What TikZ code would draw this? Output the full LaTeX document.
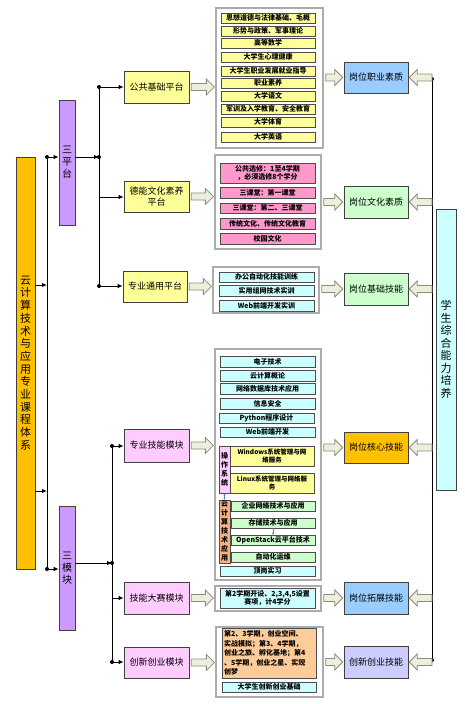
\documentclass[tikz,border=0pt]{standalone}
\usepackage{fontspec}
\setmainfont{Noto Sans CJK SC}
\usetikzlibrary{arrows.meta,calc}
\definecolor{cGold}{HTML}{FFC000}
\definecolor{cPurple}{HTML}{CC99FF}
\definecolor{cYellow}{HTML}{FFFF99}
\definecolor{cPink}{HTML}{FFCCFF}
\definecolor{cBlue}{HTML}{99CCFF}
\definecolor{cGreen}{HTML}{CCFFCC}
\definecolor{cLav}{HTML}{CCCCFF}
\definecolor{cCyan}{HTML}{CCFFFF}
\definecolor{cRose}{HTML}{FF99CC}
\definecolor{cPeach}{HTML}{FFCC99}
\definecolor{cTan}{HTML}{F4B183}
\definecolor{cFat}{HTML}{EEEEDD}
\definecolor{cFatLine}{HTML}{8C8C7A}
\definecolor{cSmall}{HTML}{5B7FBF}
\newcommand\bx[7]{\node[#6,minimum width={(#4-#2)*1pt},minimum height={(#5-#3)*1pt}] (#1) at ({(#2+#4)/2},{(#3+#5)/2}) {#7};}
\newcommand\fatR[3]{\path[fatst] let \p1=(#1), \p2=(#2), \p3=(#3) in
  ({\x1+2pt},{\y3+3.5pt}) -- ({\x2-9pt},{\y3+3.5pt}) -- ({\x2-9pt},{\y3+8pt}) -- ({\x2-1pt},\y3) --
  ({\x2-9pt},{\y3-8pt}) -- ({\x2-9pt},{\y3-3.5pt}) -- ({\x1+2pt},{\y3-3.5pt}) -- cycle;}
\newcommand\fatL[3]{\path[fatst] let \p1=(#1), \p2=(#2), \p3=(#3) in
  (\x1,{\y3+3.5pt}) -- ({\x2+9pt},{\y3+3.5pt}) -- ({\x2+9pt},{\y3+8pt}) -- ({\x2+1pt},\y3) --
  ({\x2+9pt},{\y3-8pt}) -- ({\x2+9pt},{\y3-3.5pt}) -- (\x1,{\y3-3.5pt}) -- cycle;}
\tikzset{
  mainbox/.style={draw=black!75,line width=0.6pt,inner sep=0pt,align=center},
  mid/.style={mainbox,font=\fontsize{9}{11}\selectfont},
  vbig/.style={mainbox,font=\fontsize{11}{12.7}\selectfont},
  item/.style={draw=black!70,line width=0.5pt,inner sep=0pt,align=center,font=\bfseries\fontsize{7}{8.5}\selectfont},
  vitem/.style={item,font=\bfseries\fontsize{7}{9}\selectfont},
  frame/.style={draw=gray!65,line width=1.3pt,fill=white,inner sep=0pt},
  fatst/.style={draw=cFatLine,fill=cFat,line width=0.8pt,line join=miter},
  ln/.style={line width=1pt,black},
  conn/.style={ln,-{Latex[length=5pt,width=4.5pt]}},
  small/.style={draw=cSmall,line width=0.5pt}
}
\begin{document}
\begin{tikzpicture}[x=1pt,y=-1pt]
\fill[white] (0,0) rectangle (464,704);
\useasboundingbox (0,0) rectangle (464,704);
% left column
\bx{sys}{16}{157}{35}{569}{vbig,fill=cGold}{云\\计\\算\\技\\术\\与\\应\\用\\专\\业\\课\\程\\体\\系}
\bx{pt}{59}{100}{75}{225}{mainbox,fill=cPurple,font=\fontsize{10}{12}\selectfont}{三\\平\\台}
\bx{mk}{59}{506}{75}{630}{mainbox,fill=cPurple,font=\fontsize{10}{12}\selectfont}{三\\模\\块}
% middle column
\bx{gj}{124}{71}{189}{103}{mid,fill=cYellow}{公共基础平台}
\bx{dn}{124}{181}{189}{212}{mid,fill=cYellow}{德能文化素养\\平台}
\bx{zy}{123}{271}{187}{302}{mid,fill=cYellow}{专业通用平台}
\bx{jn}{124}{429}{189}{462}{mid,fill=cPink}{专业技能模块}
\bx{ds}{124}{582}{189}{614}{mid,fill=cPink}{技能大赛模块}
\bx{cx}{124}{647}{189}{678}{mid,fill=cPink}{创新创业模块}
% right column
\bx{r1}{344}{62}{408}{93}{mid,fill=cBlue}{岗位职业素质}
\bx{r2}{344}{186}{408}{218}{mid,fill=cGreen}{岗位文化素质}
\bx{r3}{344}{273}{408}{305}{mid,fill=cGreen}{岗位基础技能}
\bx{r4}{344}{432}{408}{463}{mid,fill=cGold}{岗位核心技能}
\bx{r5}{344}{582}{408}{614}{mid,fill=cBlue}{岗位拓展技能}
\bx{r6}{344}{646}{408}{678}{mid,fill=cLav}{创新创业技能}
\bx{stu}{436}{209}{456}{490}{mainbox,fill=cCyan,font=\fontsize{11}{12.5}\selectfont}{学\\生\\综\\合\\能\\力\\培\\养}
% frames
\bx{c1}{216}{8}{323}{148}{frame}{}
\bx{c2}{215}{155}{321}{249}{frame}{}
\bx{c3}{213}{267}{319}{313}{frame}{}
\bx{c4}{215}{349}{321}{580}{frame}{}
\bx{c5}{215}{586}{321}{611}{frame}{}
\bx{c6}{216}{627}{323}{697}{frame}{}
% frame 1 items
\bx{a1}{221}{13}{315}{23}{item,fill=cYellow}{思想道德与法律基础、毛概}
\bx{a2}{221}{26}{315}{36}{item,fill=cYellow}{形势与政策、军事理论}
\bx{a3}{221}{38}{315}{48}{item,fill=cYellow}{高等数学}
\bx{a4}{221}{52}{315}{62}{item,fill=cYellow}{大学生心理健康}
\bx{a5}{221}{66}{315}{76}{item,fill=cYellow}{大学生职业发展就业指导}
\bx{a6}{221}{78}{315}{88}{item,fill=cYellow}{职业素养}
\bx{a7}{221}{91}{315}{101}{item,fill=cYellow}{大学语文}
\bx{a8}{221}{104}{315}{114}{item,fill=cYellow}{军训及入学教育、安全教育}
\bx{a9}{221}{117}{315}{127}{item,fill=cYellow}{大学体育}
\bx{a10}{221}{132}{315}{142}{item,fill=cYellow}{大学英语}
% frame 2 items
\bx{b1}{220}{163}{315}{183}{item,fill=cRose}{公共选修：1至4学期\\，必须选修8个学分}
\bx{b2}{220}{187}{315}{198}{item,fill=cRose}{三课堂：第一课堂}
\bx{b3}{220}{203}{315}{213}{item,fill=cRose}{三课堂：第二、三课堂}
\bx{b4}{220}{218}{315}{229}{item,fill=cRose}{传统文化、传统文化教育}
\bx{b5}{220}{233}{315}{244}{item,fill=cRose}{校园文化}
% frame 3 items
\bx{d1}{219}{272}{314}{282}{item,fill=cCyan}{办公自动化技能训练}
\bx{d2}{219}{285}{314}{296}{item,fill=cCyan}{实用组网技术实训}
\bx{d3}{219}{300}{314}{311}{item,fill=cCyan}{Web前端开发实训}
% frame 4 items
\bx{e1}{220}{356}{315}{367}{item,fill=cCyan}{电子技术}
\bx{e2}{220}{370}{315}{381}{item,fill=cCyan}{云计算概论}
\bx{e3}{220}{383}{315}{394}{item,fill=cCyan}{网络数据库技术应用}
\bx{e4}{220}{398}{315}{409}{item,fill=cCyan}{信息安全}
\bx{e5}{219}{413}{314}{423}{item,fill=cCyan}{Python程序设计}
\bx{e6}{220}{427}{315}{437}{item,fill=cCyan}{Web前端开发}
\bx{os}{219}{446}{230}{493}{vitem,fill=cPink}{操\\作\\系\\统}
\bx{e7}{230}{446}{314}{466}{item,fill=cYellow,font=\bfseries\fontsize{6.5}{8.5}\selectfont}{Windows系统管理与网\\络服务}
\bx{e8}{230}{473}{314}{493}{item,fill=cYellow,font=\bfseries\fontsize{6.5}{8.5}\selectfont}{Linux系统管理与网络服\\务}
\bx{cl}{219}{500}{230}{563}{vitem,fill=cTan}{云\\计\\算\\技\\术\\应\\用}
\bx{e9}{231}{501}{315}{511}{item,fill=cGreen}{企业网络技术与应用}
\bx{e10}{231}{518}{315}{528}{item,fill=cGreen}{存储技术与应用}
\bx{e11}{231}{535}{315}{545}{item,fill=cGreen}{OpenStack云平台技术}
\bx{e12}{231}{552}{315}{562}{item,fill=cGreen}{自动化运维}
\bx{e13}{220}{566}{315}{576}{item,fill=cCyan}{顶岗实习}
\draw[small,{Latex[length=2pt,width=2.5pt]}-{Latex[length=2pt,width=2.5pt]}] (os.south) -- (cl.north);
\draw[small,-{Latex[length=2pt,width=2.5pt]}] (e10.south) -- (e11.north);
% frame 5 and 6 items
\bx{f1}{220}{588}{315}{608}{item,fill=cCyan}{第2学期开设、2,3,4,5设置\\赛项，计4学分}
\bx{g1}{222}{628}{316}{678}{item,fill=cPeach,align=left,text width=90pt,inner xsep=2pt,font=\bfseries\fontsize{7}{9.6}\selectfont}{第2、3学期，创业空间、\\实战模拟；第3、4学期，\\创业之旅、孵化基地；第4\\、5学期，创业之星、实现\\创梦}
\bx{g2}{222}{682}{316}{692}{item,fill=cCyan}{大学生创新创业基础}
% left connectors
\coordinate (La) at (47,157);
\coordinate (Lb) at (47,569);
\coordinate (Lc) at (47,285);
\coordinate (Ld) at (47,491);
\draw[ln] (La) -- (Lb);
\draw[conn] (sys.east |- Lc) -- (Lc);
\draw[conn] (sys.east |- Ld) -- (Ld);
\draw[conn] (La) -- (pt.west |- La);
\draw[conn] (Lb) -- (mk.west |- Lb);
\fill (La) circle (2pt); \fill (Lb) circle (2pt);
% platform connectors
\coordinate (Pa) at (99,87);
\coordinate (Pb) at (99,197);
\coordinate (Pc) at (99,286);
\coordinate (Pm) at (99,157);
\draw[ln] (Pa) -- (Pc);
\draw[conn] (pt.east |- Pm) -- (Pm);
\draw[conn] (Pa) -- (gj.west |- Pa);
\draw[conn] (Pb) -- (dn.west |- Pb);
\draw[conn] (Pc) -- (zy.west |- Pc);
\fill (Pa) circle (2pt); \fill (Pc) circle (2pt); \fill (Pm) circle (2pt);
% module connectors
\coordinate (Ma) at (112,446);
\coordinate (Mb) at (112,598);
\coordinate (Mc) at (112,662);
\coordinate (Mm) at (112,563);
\draw[ln] (Ma) -- (Mc);
\draw[conn] (mk.east |- Mm) -- (Mm);
\draw[conn] (Ma) -- (jn.west |- Ma);
\draw[conn] (Mb) -- (ds.west |- Mb);
\draw[conn] (Mc) -- (cx.west |- Mc);
\fill (Ma) circle (2pt); \fill (Mc) circle (2pt); \fill (Mm) circle (2pt);
% right line
\coordinate (Ra) at (432,79);
\coordinate (Rz) at (432,660);
\draw[ln] (Ra) -- (Rz);
\fill (Ra) circle (2pt); \fill (Rz) circle (2pt);
% fat arrows
\fatR{gj.east}{c1.west}{gj}
\fatR{dn.east}{c2.west}{dn}
\fatR{zy.east}{c3.west}{zy}
\fatR{jn.east}{c4.west}{jn}
\fatR{ds.east}{c5.west}{ds}
\fatR{cx.east}{c6.west}{cx}
\fatR{c1.east}{r1.west}{r1}
\fatR{c2.east}{r2.west}{r2}
\fatR{c3.east}{r3.west}{r3}
\fatR{c4.east}{r4.west}{r4}
\fatR{c5.east}{r5.west}{r5}
\fatR{c6.east}{r6.west}{r6}
\fatL{Ra |- r1}{r1.east}{r1}
\fatL{Ra |- r2}{r2.east}{r2}
\fatL{Ra |- r3}{r3.east}{r3}
\fatL{Ra |- r4}{r4.east}{r4}
\fatL{Ra |- r5}{r5.east}{r5}
\fatL{Ra |- r6}{r6.east}{r6}
\end{tikzpicture}
\end{document}
